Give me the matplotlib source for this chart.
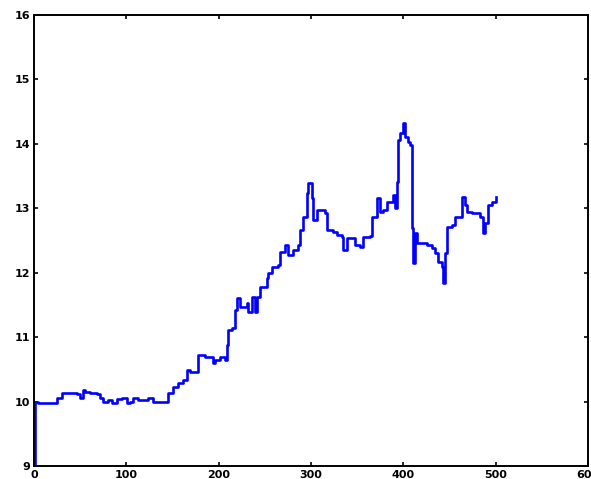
import matplotlib.pyplot as plt
import numpy as np

# series values (step trace)
t = [0, 1, 4.3, 19.5, 24.9, 30.3, 46.6, 49.8, 53.1, 55.2, 60.7, 68.2, 71.5, 74.7,
     80.1, 84.5, 89.9, 95.3, 100.7, 104.0, 107.2, 112.6, 120.2, 123.5, 128.9, 144.1,
     145.1, 150.6, 156.0, 161.4, 165.7, 169.0, 174.4, 177.6, 185.2, 193.9, 196.0,
     201.5, 206.9, 209.0, 210.1, 214.5, 217.7, 219.9, 223.1, 230.7, 231.8, 236.1,
     239.4, 241.5, 244.8, 252.4, 253.4, 257.8, 264.3, 266.4, 271.9, 275.1, 280.5,
     285.9, 288.1, 291.4, 295.7, 296.8, 301.1, 302.2, 306.5, 315.2, 317.3, 323.8,
     328.2, 333.6, 334.6, 339.0, 344.4, 347.7, 353.1, 356.3, 363.9, 366.1, 371.5,
     374.8, 378.0, 382.3, 388.8, 391.0, 393.2, 394.3, 396.4, 399.7, 401.8, 405.1,
     407.2, 409.4, 410.5, 412.6, 414.8, 420.2, 425.7, 431.1, 434.3, 437.6, 441.9,
     443.0, 445.2, 447.3, 452.7, 456.0, 459.2, 463.6, 466.8, 469.0, 474.4, 479.8,
     483.1, 486.3, 488.5, 491.7, 496.1, 500.0]
v = [9.00, 9.99, 9.98, 9.98, 10.06, 10.13, 10.12, 10.06, 10.18, 10.15, 10.13, 10.12,
     10.06, 9.99, 10.02, 9.98, 10.04, 10.06, 9.98, 9.99, 10.06, 10.02, 10.02, 10.06,
     9.99, 9.99, 10.13, 10.23, 10.29, 10.33, 10.49, 10.46, 10.46, 10.72, 10.69, 10.60,
     10.65, 10.69, 10.65, 10.88, 11.11, 11.14, 11.42, 11.61, 11.47, 11.53, 11.39,
     11.62, 11.39, 11.62, 11.78, 11.92, 12.00, 12.09, 12.12, 12.32, 12.43, 12.27,
     12.35, 12.43, 12.66, 12.86, 13.24, 13.39, 13.16, 12.82, 12.97, 12.93, 12.66,
     12.63, 12.59, 12.55, 12.35, 12.54, 12.54, 12.43, 12.40, 12.55, 12.57, 12.86,
     13.16, 12.94, 12.97, 13.10, 13.21, 13.00, 13.41, 14.06, 14.17, 14.32, 14.11,
     14.03, 13.98, 12.69, 12.15, 12.62, 12.46, 12.46, 12.43, 12.38, 12.31, 12.17,
     12.09, 11.84, 12.31, 12.71, 12.74, 12.86, 12.86, 13.17, 13.05, 12.94, 12.93,
     12.93, 12.86, 12.62, 12.77, 13.05, 13.10, 13.17]

xticks = [0, 100, 200, 300, 400, 500, 600]
yticks = [9, 10, 11, 12, 13, 14, 15, 16]

fig = plt.figure(figsize=(5.91, 4.79), dpi=100)
ax = fig.add_axes([34/591, 13/479, 554/591, 451/479])

ax.plot(t, v, color=(0, 0, 1), lw=1.9, drawstyle='steps-post')

ax.set_xlim(0, 600)
ax.set_ylim(9, 16)
ax.set_xticks(xticks)
ax.set_yticks(yticks)
ax.tick_params(direction='in', length=3, width=1.2, top=True, right=True,
               labelsize=8, pad=3, colors='black')
for lab in ax.get_xticklabels() + ax.get_yticklabels():
    lab.set_fontweight('bold')
for s in ax.spines.values():
    s.set_linewidth(1.4)

fig.savefig('out.png', dpi=100)
